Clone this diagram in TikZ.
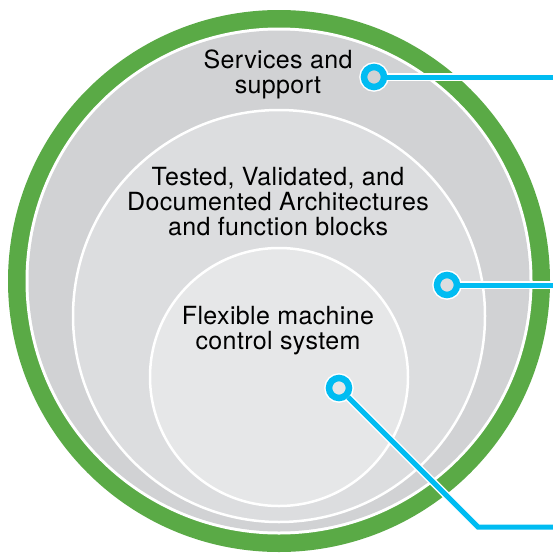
\documentclass[tikz,border=0pt]{standalone}
\usepackage{fontspec}
\setmainfont[LetterSpace=1.5]{TeX Gyre Heros}
\definecolor{grn}{HTML}{5AAA46}
\definecolor{gA}{HTML}{D1D2D4}
\definecolor{gB}{HTML}{DCDDDF}
\definecolor{gC}{HTML}{E6E7E8}
\definecolor{cy}{HTML}{00BCF2}
\tikzset{
  lbl/.style={align=center, inner sep=0pt, font=\fontsize{25}{25}\selectfont, text=black},
  ring/.style={circle, minimum size=20pt, inner sep=0pt, draw=cy, line width=6.5pt,
    preaction={draw=white, line width=9.5pt}},
  conn/.style={draw=cy, line width=5pt, preaction={draw=white, line width=8pt}},
  disc/.style={draw=white, line width=2.5pt}
}
\begin{document}
\begin{tikzpicture}[x=1pt,y=-1pt]
\useasboundingbox (0,0) rectangle (553,554);
\fill[grn] (279,281) circle (271pt);
\fill[white] (279,281) circle (253.5pt);
\fill[gA] (279,281) circle (250.5pt);
\filldraw[disc, fill=gB] (279,316) circle (206pt);
\filldraw[disc, fill=gC] (279,377) circle (129pt);
\node[lbl] (t1) at (278,74) {Services and\\support};
\node[lbl] (t2) at (278,202) {Tested, Validated, and\\Documented Architectures\\and function blocks};
\node[lbl] (t3) at (278,331) {Flexible machine\\control system};
\coordinate (e1) at (553,77);
\coordinate (e2) at (553,285);
\coordinate (c3) at (478,527);
\coordinate (e3) at (553,527);
\node[ring, fill=gA] (r1) at (374,77) {};
\node[ring, fill=gB] (r2) at (447,285) {};
\node[ring, fill=gC] (r3) at (339,388) {};
\draw[conn] (r1) -- (e1);
\draw[conn] (r2) -- (e2);
\draw[conn] (r3) -- (c3) -- (e3);
\end{tikzpicture}
\end{document}
